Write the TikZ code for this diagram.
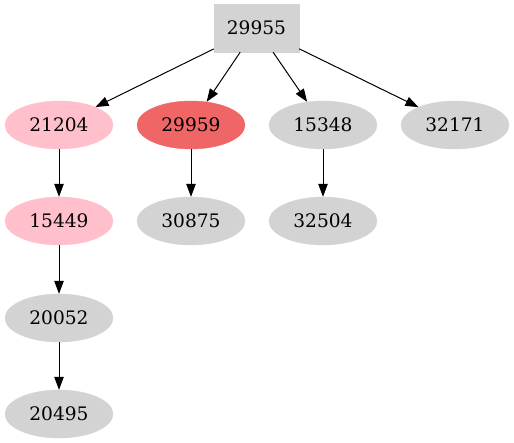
\documentclass[tikz,border=0pt]{standalone}
\usepackage{fontspec}
\setmainfont{DejaVu Serif}
\usetikzlibrary{shapes.geometric,arrows.meta}
\definecolor{gvgray}{HTML}{D3D3D3}
\definecolor{gvpink}{HTML}{FFC0CB}
\definecolor{gvred}{HTML}{F06666}
\tikzset{
  x=1pt,y=1pt,
  elnode/.style={ellipse,minimum width=108pt,minimum height=48pt,inner sep=0pt,font=\fontsize{18.6}{22}\selectfont},
  graynode/.style={elnode,fill=gvgray,draw=gvgray},
  pinknode/.style={elnode,fill=gvpink,draw=gvpink},
  rednode/.style={elnode,fill=gvred,draw=gvred},
  boxnode/.style={rectangle,minimum width=85pt,minimum height=48pt,inner sep=0pt,fill=gvgray,draw=gvgray,font=\fontsize{18.6}{22}\selectfont},
  edge/.style={draw=black,line width=1pt,-{Triangle[length=13pt,width=9.5pt]}}
}
\begin{document}
\begin{tikzpicture}
\useasboundingbox (0,0) rectangle (514,-443);
\node[boxnode] (n29955) at (256.5,-28) {29955};
\node[pinknode] (n21204) at (59,-125) {21204};
\node[rednode] (n29959) at (191,-125) {29959};
\node[graynode] (n15348) at (323,-125) {15348};
\node[graynode] (n32171) at (455,-125) {32171};
\node[pinknode] (n15449) at (59,-221) {15449};
\node[graynode] (n30875) at (191,-221) {30875};
\node[graynode] (n32504) at (323,-221) {32504};
\node[graynode] (n20052) at (59,-318) {20052};
\node[graynode] (n20495) at (59,-414) {20495};
\draw[edge] (n29955) -- (n21204);
\draw[edge] (n29955) -- (n29959);
\draw[edge] (n29955) -- (n15348);
\draw[edge] (n29955) -- (n32171);
\draw[edge] (n21204) -- (n15449);
\draw[edge] (n29959) -- (n30875);
\draw[edge] (n15348) -- (n32504);
\draw[edge] (n15449) -- (n20052);
\draw[edge] (n20052) -- (n20495);
\end{tikzpicture}
\end{document}
